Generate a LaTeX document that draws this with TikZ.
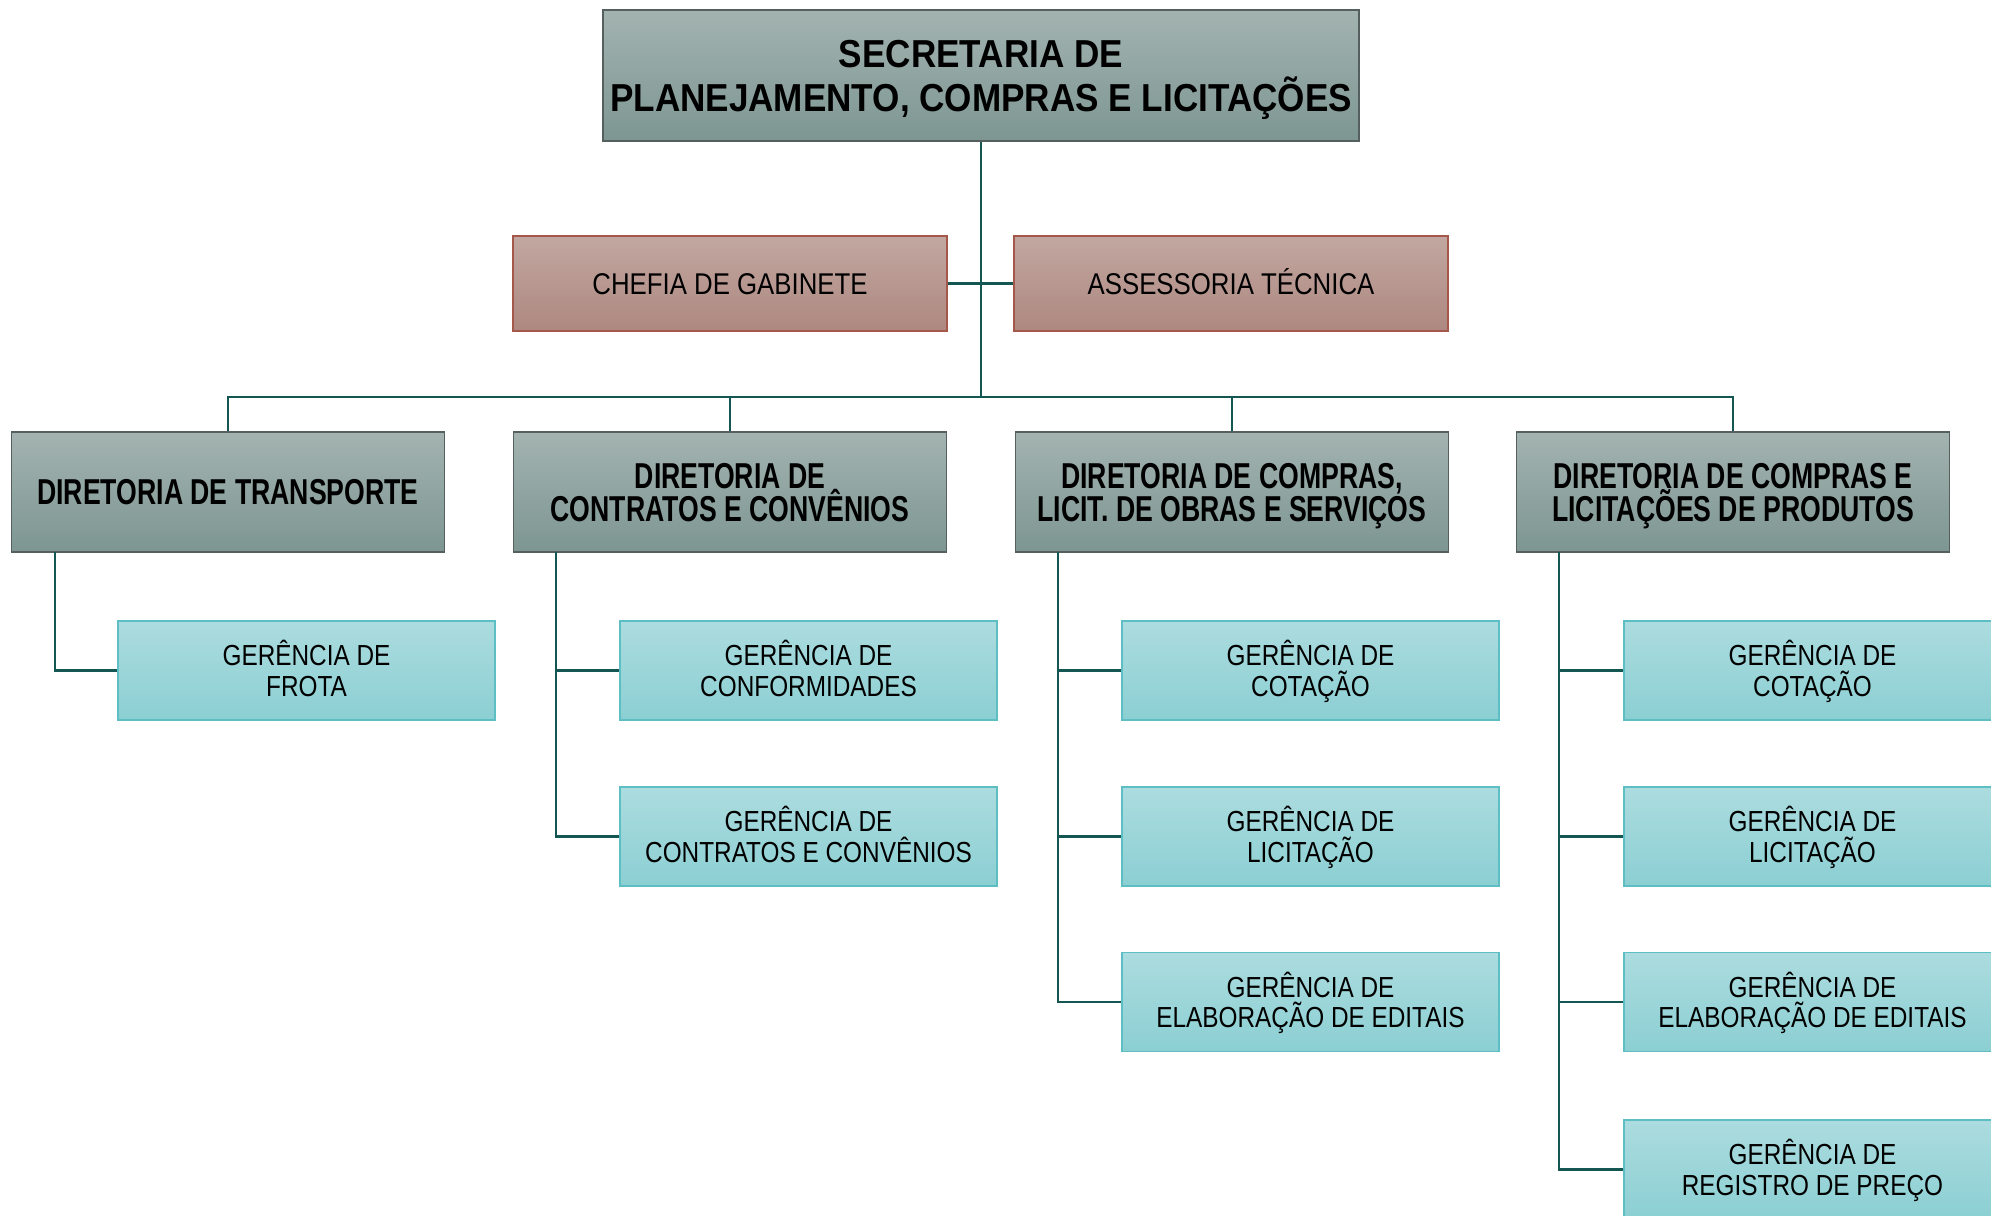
\documentclass[tikz,border=0pt]{standalone}
\usepackage{fontspec}
\setmainfont{Liberation Sans}
\newfontfamily\titlefont{Liberation Sans}[FakeStretch=0.90]
\newfontfamily\dirfont{Liberation Sans}[FakeStretch=0.74]
\newfontfamily\gerfont{Liberation Sans}[FakeStretch=0.84]
\newfontfamily\redfont{Liberation Sans}[FakeStretch=0.86]
\newcommand\hs[1]{\rule{0pt}{#1}}
\newcommand\ds[1]{\rule[-#1]{0pt}{#1}}
\newcommand\tA{\hs{18.5pt}}\newcommand\tB{\ds{4.5pt}}
\newcommand\dA{\hs{17pt}}\newcommand\dB{\ds{4.1pt}}
\newcommand\gA{\hs{14pt}}\newcommand\gB{\ds{3.6pt}}
\definecolor{dirtop}{HTML}{A3B3B0}
\definecolor{dirbot}{HTML}{7D9692}
\definecolor{dirline}{HTML}{555F5D}
\definecolor{redtop}{HTML}{C2A7A1}
\definecolor{redbot}{HTML}{AD8880}
\definecolor{redline}{HTML}{A5584A}
\definecolor{teatop}{HTML}{ACDCDF}
\definecolor{teabot}{HTML}{8BCFD3}
\definecolor{tealine}{HTML}{5DBFC4}
\definecolor{conn}{HTML}{145752}
\tikzset{
  box/.style={inner sep=0pt, align=center, text=black},
  topbox/.style={box, minimum width=378pt, minimum height=65.5pt, draw=dirline, line width=0.8pt, top color=dirtop, bottom color=dirbot, font=\titlefont\bfseries\fontsize{19.5}{22}\selectfont},
  redbox/.style={box, minimum width=217pt, minimum height=47.5pt, draw=redline, line width=0.8pt, top color=redtop, bottom color=redbot, font=\redfont\fontsize{15}{17}\selectfont, text height=10.7pt, text depth=0pt},
  dirbox/.style={box, minimum width=216.5pt, minimum height=60pt, draw=dirline, line width=0.8pt, top color=dirtop, bottom color=dirbot, font=\dirfont\bfseries\fontsize{18}{16.5}\selectfont},
  gerbox/.style={box, minimum width=188.5pt, minimum height=49.5pt, draw=tealine, line width=0.8pt, top color=teatop, bottom color=teabot, font=\gerfont\fontsize{14.5}{15.2}\selectfont},
  link/.style={draw=conn, line width=1.4pt}
}
\begin{document}
\begin{tikzpicture}[x=0.5pt,y=-0.5pt]
\useasboundingbox (0,0) rectangle (1991,1215);
% top
\node[topbox] (top) at (981,75.5) {\tA SECRETARIA DE\\PLANEJAMENTO, COMPRAS E LICITAÇÕES\tB};
\node[redbox] (chefia) at (730,283.5) {CHEFIA DE GABINETE};
\node[redbox] (assess) at (1231,283.5) {ASSESSORIA TÉCNICA};
% directorates
\node[dirbox] (d1) at (228,492) {DIRETORIA DE TRANSPORTE};
\node[dirbox] (d2) at (730,492) {\dA DIRETORIA DE\\CONTRATOS E CONVÊNIOS\dB};
\node[dirbox] (d3) at (1232,492) {\dA DIRETORIA DE COMPRAS,\\LICIT. DE OBRAS E SERVIÇOS\dB};
\node[dirbox] (d4) at (1733,492) {\dA DIRETORIA DE COMPRAS E\\LICITAÇÕES DE PRODUTOS\dB};
% gerencias
\node[gerbox] (g11) at (306.5,670.5) {\gA GERÊNCIA DE\\FROTA\gB};
\node[gerbox] (g21) at (808.5,670.5) {\gA GERÊNCIA DE\\CONFORMIDADES\gB};
\node[gerbox] (g22) at (808.5,836.5) {\gA GERÊNCIA DE\\CONTRATOS E CONVÊNIOS\gB};
\node[gerbox] (g31) at (1310.5,670.5) {\gA GERÊNCIA DE\\COTAÇÃO\gB};
\node[gerbox] (g32) at (1310.5,836.5) {\gA GERÊNCIA DE\\LICITAÇÃO\gB};
\node[gerbox] (g33) at (1310.5,1002) {\gA GERÊNCIA DE\\ELABORAÇÃO DE EDITAIS\gB};
\node[gerbox] (g41) at (1812.5,670.5) {\gA GERÊNCIA DE\\COTAÇÃO\gB};
\node[gerbox] (g42) at (1812.5,836.5) {\gA GERÊNCIA DE\\LICITAÇÃO\gB};
\node[gerbox] (g43) at (1812.5,1002) {\gA GERÊNCIA DE\\ELABORAÇÃO DE EDITAIS\gB};
\node[gerbox] (g44) at (1812.5,1169.5) {\gA GERÊNCIA DE\\REGISTRO DE PREÇO\gB};
% connectors
\coordinate (bus) at (981,397);
\coordinate (s1) at (55,552);
\coordinate (s2) at (556,552);
\coordinate (s3) at (1058,552);
\coordinate (s4) at (1559,552);
\path[link] (top.south) -- (bus);
\path[link] (chefia.east) -- (assess.west);
\path[link] (d1.north) |- (bus) -| (d4.north);
\path[link] (d2.north) |- (bus);
\path[link] (d3.north) |- (bus);
\path[link] (s1) |- (g11.west);
\path[link] (s2) |- (g22.west);
\path[link] (s2) |- (g21.west);
\path[link] (s3) |- (g33.west);
\path[link] (s3) |- (g32.west);
\path[link] (s3) |- (g31.west);
\path[link] (s4) |- (g44.west);
\path[link] (s4) |- (g43.west);
\path[link] (s4) |- (g42.west);
\path[link] (s4) |- (g41.west);
\end{tikzpicture}
\end{document}
